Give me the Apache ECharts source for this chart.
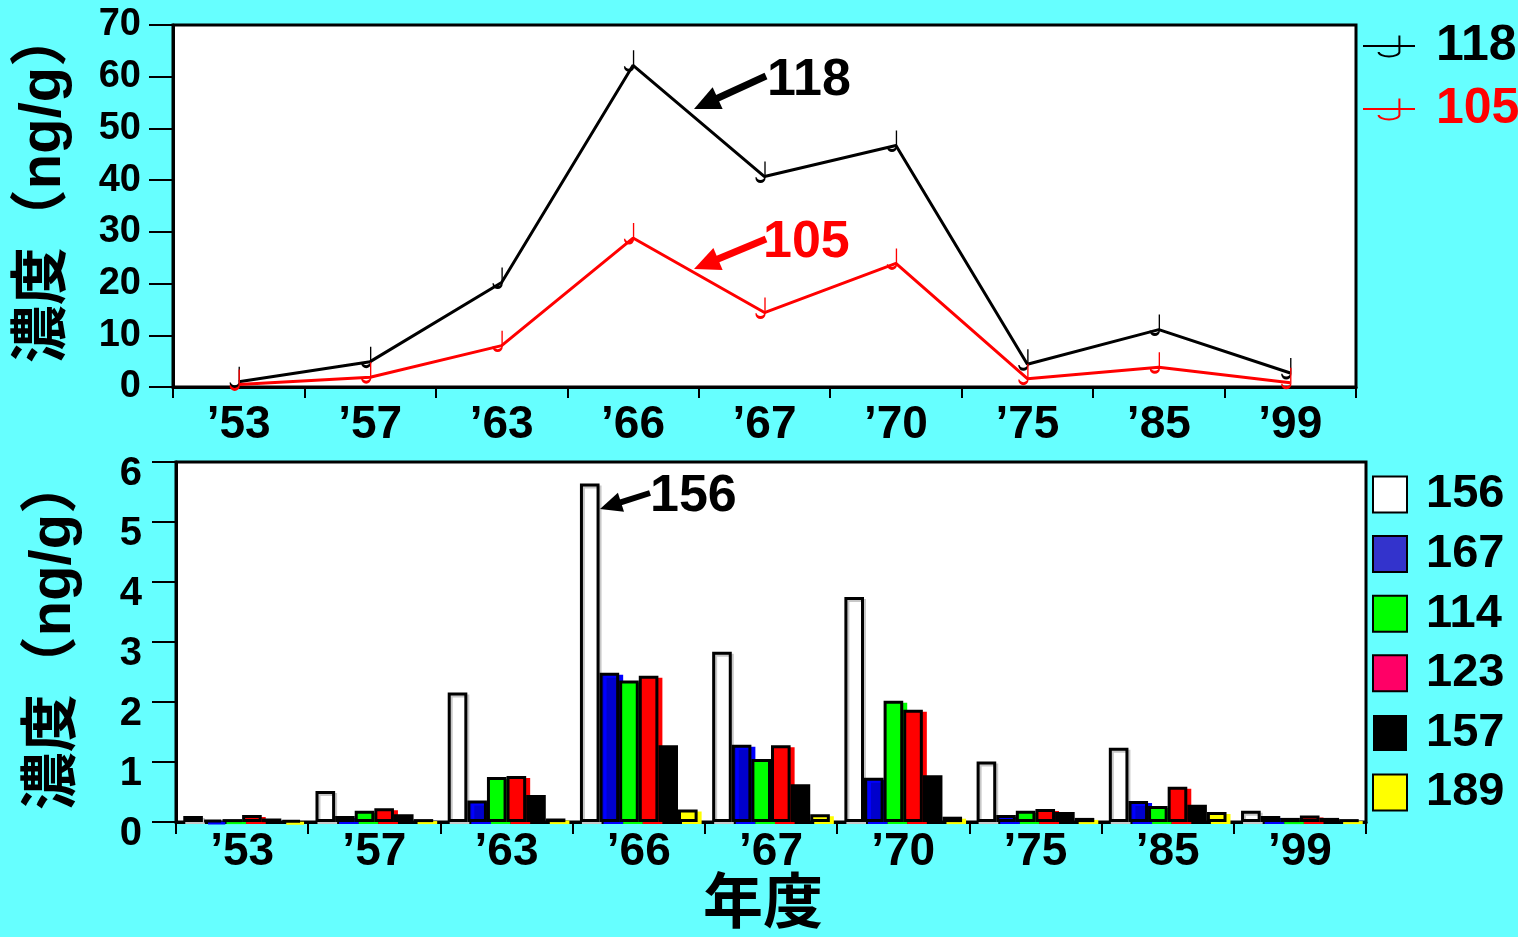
<!DOCTYPE html>
<html>
<head>
<meta charset="utf-8">
<script src="https://cdn.jsdelivr.net/npm/echarts@6/dist/echarts.min.js"></script>
<style>
  html, body { margin: 0; padding: 0; background: #66ffff; }
  #chart { width: 1518px; height: 937px; }
</style>
</head>
<body>
<div id="chart"></div>
<script>
// Sampling years (category axis shared by both panels)
const years = ['’53', '’57', '’63', '’66', '’67', '’70', '’75', '’85', '’99'];

// Upper panel: PCB congeners 118 and 105 (ng/g)
const pcb118 = [1.0, 4.9, 20.2, 62.2, 40.7, 46.7, 4.4, 11.1, 2.7];
const pcb105 = [0.5, 1.9, 8.0, 28.8, 14.4, 23.9, 1.6, 3.8, 0.8];

// Lower panel: PCB congeners 156, 167, 114, 123, 157, 189 (ng/g)
const pcb156 = [0.10, 0.52, 2.16, 5.64, 2.84, 3.75, 1.01, 1.24, 0.19];
const pcb167 = [0.04, 0.10, 0.36, 2.49, 1.29, 0.74, 0.12, 0.35, 0.10];
const pcb114 = [0.05, 0.19, 0.75, 2.36, 1.05, 2.02, 0.19, 0.27, 0.07];
const pcb123 = [0.12, 0.23, 0.77, 2.44, 1.28, 1.87, 0.22, 0.59, 0.11];
const pcb157 = [0.06, 0.13, 0.45, 1.28, 0.63, 0.78, 0.17, 0.29, 0.07];
const pcb189 = [0.03, 0.05, 0.06, 0.21, 0.13, 0.09, 0.07, 0.17, 0.05];

const lineNames = ['118', '105'];
const barNames = ['156', '167', '114', '123', '157', '189'];

const NUM_FONT = "'Liberation Sans', Arial, sans-serif";
const CJK_FONT = "'Liberation Sans', 'Noto Sans CJK JP', sans-serif";

// hook-shaped point marker
const hookSymbol = 'path://M8,0 L8,15 A4,4 0 0 1 0,15';

const chart = echarts.init(document.getElementById('chart'), null, { renderer: 'canvas' });

function lineSeries(name, data, color) {
  return {
    name: name,
    type: 'line',
    xAxisIndex: 0,
    yAxisIndex: 0,
    data: data,
    showSymbol: true,
    showAllSymbol: true,
    symbol: hookSymbol,
    symbolSize: [9, 20],
    symbolOffset: [-4, -5],
    lineStyle: { color: color, width: 3 },
    itemStyle: { color: 'none', borderColor: color, borderWidth: 2 },
    emphasis: { disabled: true },
    animation: false,
    z: 3
  };
}

function barSeries(name, data, fill, shadow, shift) {
  return {
    name: name,
    type: 'bar',
    xAxisIndex: 1,
    yAxisIndex: 1,
    data: data,
    barGap: '0%',
    barCategoryGap: '11%',
    itemStyle: {
      color: fill,
      borderColor: '#000',
      borderWidth: 3,
      shadowColor: shadow || 'transparent',
      shadowBlur: 0,
      shadowOffsetX: shadow ? shift : 0,
      shadowOffsetY: shadow ? 2 : 0
    },
    emphasis: { disabled: true },
    animation: false
  };
}

function arrow(x1, y1, x2, y2, color, width, headLen, headHalf) {
  const len = Math.hypot(x2 - x1, y2 - y1);
  const dx = (x2 - x1) / len, dy = (y2 - y1) / len;
  const bx = x2 - dx * headLen, by = y2 - dy * headLen;
  const nx = -dy, ny = dx;
  return [
    { type: 'line', shape: { x1: x1, y1: y1, x2: bx + dx * 2, y2: by + dy * 2 },
      style: { stroke: color, lineWidth: width }, z: 10 },
    { type: 'polygon',
      shape: { points: [[x2, y2], [bx + nx * headHalf, by + ny * headHalf], [bx - nx * headHalf, by - ny * headHalf]] },
      style: { fill: color }, z: 10 }
  ];
}

function note(text, x, y, color) {
  return {
    type: 'text', x: x, y: y, z: 10,
    style: {
      text: text, fill: color, font: 'bold 52px ' + NUM_FONT,
      textAlign: 'left', textVerticalAlign: 'middle'
    }
  };
}

const flatLegendItem = { borderColor: '#000', borderWidth: 2, shadowBlur: 0, shadowOffsetX: 0, shadowOffsetY: 0, shadowColor: 'transparent' };

const option = {
  backgroundColor: '#66ffff',
  animation: false,
  grid: [
    { left: 173, top: 25, right: 162, bottom: 550, show: true, backgroundColor: '#fff',
      borderColor: '#000', borderWidth: 3, containLabel: false },
    { left: 176, top: 462, right: 152, bottom: 112, show: true, backgroundColor: '#fff',
      borderColor: '#000', borderWidth: 3, containLabel: false }
  ],
  xAxis: [
    {
      gridIndex: 0, type: 'category', data: years, boundaryGap: true,
      axisLine: { lineStyle: { color: '#000', width: 3 } },
      axisTick: { show: true, length: 11, lineStyle: { color: '#000', width: 2 } },
      axisLabel: { color: '#000', fontSize: 46, fontWeight: 'bold', fontFamily: NUM_FONT, margin: 15, interval: 0 },
      splitLine: { show: false }
    },
    {
      gridIndex: 1, type: 'category', data: years, boundaryGap: true,
      axisLine: { lineStyle: { color: '#000', width: 3 } },
      axisTick: { show: true, length: 12, lineStyle: { color: '#000', width: 2 } },
      axisLabel: { color: '#000', fontSize: 46, fontWeight: 'bold', fontFamily: NUM_FONT, margin: 7, interval: 0 },
      splitLine: { show: false },
      name: '年度', nameLocation: 'middle', nameGap: 53,
      nameTextStyle: { color: '#000', fontSize: 60, fontWeight: 'bold', fontFamily: CJK_FONT, padding: [0, 16, 0, 0] }
    }
  ],
  yAxis: [
    {
      gridIndex: 0, type: 'value', min: 0, max: 70, interval: 10,
      axisLine: { show: true, lineStyle: { color: '#000', width: 3 } },
      axisTick: { show: true, length: 24, lineStyle: { color: '#000', width: 2 } },
      axisLabel: { color: '#000', fontSize: 38, fontWeight: 'bold', fontFamily: NUM_FONT, margin: 32 },
      splitLine: { show: false },
      name: '濃度（ng/g）', nameLocation: 'middle', nameRotate: 90, nameGap: 100,
      nameTextStyle: { color: '#000', fontSize: 58, fontWeight: 'bold', fontFamily: CJK_FONT, padding: [0, 0, 0, 40] }
    },
    {
      gridIndex: 1, type: 'value', min: 0, max: 6, interval: 1,
      axisLine: { show: true, lineStyle: { color: '#000', width: 3 } },
      axisTick: { show: true, length: 24, lineStyle: { color: '#000', width: 2 } },
      axisLabel: { color: '#000', fontSize: 40, fontWeight: 'bold', fontFamily: NUM_FONT, margin: 34,
                   verticalAlign: 'top', lineHeight: 24 },
      splitLine: { show: false },
      name: '濃度（ng/g）', nameLocation: 'middle', nameRotate: 90, nameGap: 93,
      nameTextStyle: { color: '#000', fontSize: 58, fontWeight: 'bold', fontFamily: CJK_FONT, padding: [0, 0, 0, 18] }
    }
  ],
  legend: [
    {
      orient: 'vertical', left: 1357, top: 16,
      itemWidth: 52, itemHeight: 26, itemGap: 13,
      selectedMode: false,
      textStyle: { fontSize: 50, fontWeight: 'bold', fontFamily: NUM_FONT, padding: [0, 0, 0, 16] },
      data: [
        { name: lineNames[0], textStyle: { color: '#000' } },
        { name: lineNames[1], textStyle: { color: '#ff0000' } }
      ]
    },
    {
      orient: 'vertical', left: 1367, top: 466,
      itemWidth: 34, itemHeight: 36, itemGap: 12.6,
      selectedMode: false,
      icon: 'rect',
      textStyle: { color: '#000', fontSize: 47, fontWeight: 'bold', fontFamily: NUM_FONT, padding: [0, 0, 0, 14] },
      data: [
        { name: barNames[0], itemStyle: Object.assign({ color: '#fff' }, flatLegendItem) },
        { name: barNames[1], itemStyle: Object.assign({ color: '#3333cc' }, flatLegendItem) },
        { name: barNames[2], itemStyle: Object.assign({ color: '#00ff00' }, flatLegendItem) },
        { name: barNames[3], itemStyle: Object.assign({ color: '#ff0066' }, flatLegendItem) },
        { name: barNames[4], itemStyle: Object.assign({ color: '#000' }, flatLegendItem, { borderWidth: 0 }) },
        { name: barNames[5], itemStyle: Object.assign({ color: '#ffff00' }, flatLegendItem) }
      ]
    }
  ],
  series: [
    lineSeries(lineNames[0], pcb118, '#000'),
    lineSeries(lineNames[1], pcb105, '#ff0000'),
    barSeries(barNames[0], pcb156, '#fff', '#c8c8c8', 2),
    barSeries(barNames[1], pcb167, '#0000cc', '#0000ff', 4),
    barSeries(barNames[2], pcb114, '#00ff00', '#00ff00', 4),
    barSeries(barNames[3], pcb123, '#ff0000', '#ff0000', 4),
    barSeries(barNames[4], pcb157, '#000', null, 0),
    barSeries(barNames[5], pcb189, '#ffff00', '#ffff00', 4)
  ],
  graphic: [].concat(
    arrow(766, 76, 694, 109, '#000', 7, 26, 12),
    [note('118', 767, 81, '#000')],
    arrow(766, 239, 694, 269, '#ff0000', 7, 26, 12),
    [note('105', 763, 243, '#ff0000')],
    arrow(650, 493, 600, 509, '#000', 6, 22, 10),
    [note('156', 650, 497, '#000')]
  )
};

chart.setOption(option);
</script>
</body>
</html>
